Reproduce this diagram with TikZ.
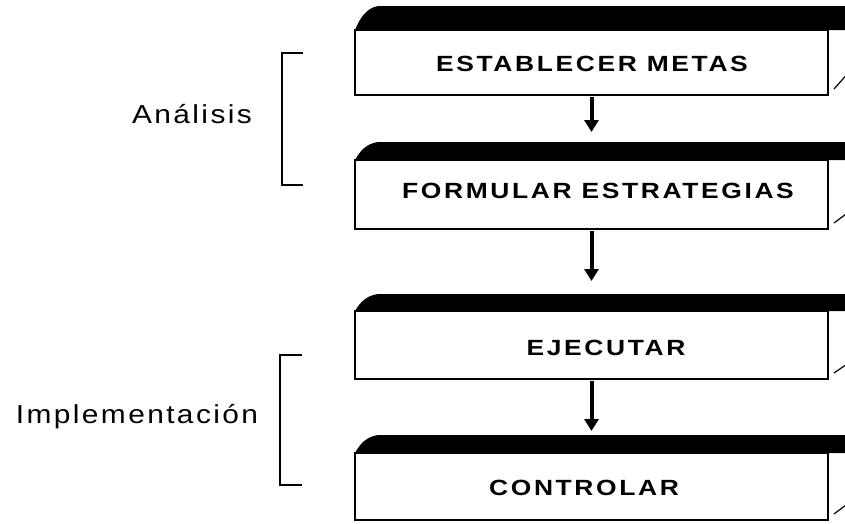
\documentclass[tikz,border=0pt]{standalone}
\usepackage{fontspec}
\setmainfont{Liberation Sans}
\newfontfamily\boxfont[LetterSpace=10]{Liberation Sans}
\newfontfamily\labfont[LetterSpace=8]{Liberation Sans}
\usetikzlibrary{arrows.meta,calc}
\newcommand\topface[3]{% #1 front top y, #2 depth, #3 bottom y
  \fill[black] (355,#1) .. controls (360,#1-#2*0.5) and (366,#1-#2*0.9) .. (378,#1-#2)
     -- (850,#1-#2) -- (850,#1) -- cycle;
  \draw[line width=1pt] (828,#1) -- (850,#1-#2);
  \draw[line width=1.2pt] (834,#3-6) -- (850,#3-#2);
}
\begin{document}
\begin{tikzpicture}[x=1pt,y=-1pt,
  slab/.style={draw=black, line width=2pt, fill=white, minimum width=473pt, inner sep=0pt},
  slabtext/.style={font=\boxfont\bfseries\fontsize{22}{26}\selectfont, anchor=base, inner sep=0pt},
  labtext/.style={font=\labfont\fontsize{26}{30}\selectfont, anchor=base, inner sep=0pt},
  arr/.style={line width=4pt, -{Triangle[width=14pt,length=12pt]}},
  brk/.style={line width=1.8pt}]
\useasboundingbox (0,0) rectangle (845,523);
\begin{scope}
\clip (0,0) rectangle (845,523);
% box 1
\topface{30}{24}{95}
\node[slab, minimum height=65pt] (b1) at (591.5,62.5) {};
\node[slabtext] (t1) at (592,71) {\scalebox{1.2}[1]{ESTABLECER METAS}};
% box 2
\topface{160}{18}{229}
\node[slab, minimum height=69pt] (b2) at (591.5,194.5) {};
\node[slabtext] (t2) at (598,198) {\scalebox{1.2}[1]{FORMULAR ESTRATEGIAS}};
% box 3
\topface{311}{17}{379}
\node[slab, minimum height=68pt] (b3) at (591.5,345) {};
\node[slabtext] (t3) at (606,355) {\scalebox{1.2}[1]{EJECUTAR}};
% box 4
\topface{453}{18}{520}
\node[slab, minimum height=67pt] (b4) at (591.5,486.5) {};
\node[slabtext] (t4) at (584,495) {\scalebox{1.2}[1]{CONTROLAR}};
\end{scope}
% arrows
\draw[arr] ([yshift=-1pt]b1.south) -- ([yshift=27pt]b2.north);
\draw[arr] ([yshift=-1pt]b2.south) -- ([yshift=29pt]b3.north);
\draw[arr] ([yshift=-1pt]b3.south) -- ([yshift=21pt]b4.north);
% left labels and brackets
\node[labtext] (l1) at (192,123) {\scalebox{1.15}[1]{Análisis}};
\draw[brk] (303,53) -- (282,53) -- (282,185) -- (303,185);
\node[labtext] (l2) at (137,423) {\scalebox{1.15}[1]{Implementación}};
\draw[brk] (302,355) -- (280,355) -- (280,485) -- (302,485);
\end{tikzpicture}
\end{document}
